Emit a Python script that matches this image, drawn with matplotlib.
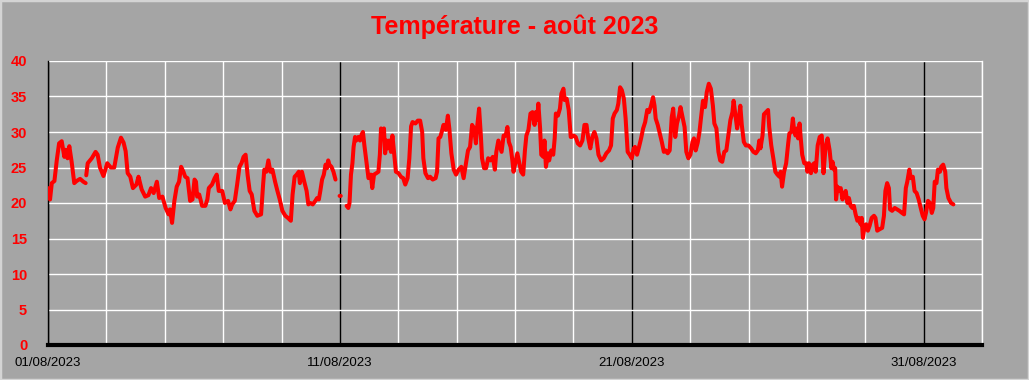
import numpy as np
import matplotlib
matplotlib.use("Agg")
import matplotlib.pyplot as plt
from matplotlib.patches import Rectangle

nan = float("nan")

# time in days since 01/08/2023 00:00
days = [
    0.00, 0.07, 0.13, 0.22, 0.30, 0.38, 0.47, 0.56, 0.61, 0.67, 0.73, 0.81, 0.90, 0.98, 1.10, 1.21, 1.29,
    1.30,
    1.31, 1.36, 1.50, 1.63, 1.70, 1.78, 1.90, 2.03, 2.15, 2.27, 2.39, 2.50, 2.59, 2.66, 2.73, 2.82, 2.91,
    3.03, 3.10, 3.21, 3.33, 3.44, 3.53, 3.62, 3.73, 3.81, 3.92, 4.03, 4.13, 4.18, 4.25, 4.33, 4.41, 4.49,
    4.56, 4.64, 4.70, 4.78, 4.87, 4.95, 5.02, 5.07, 5.11, 5.18, 5.28, 5.39, 5.46, 5.51, 5.62, 5.71, 5.78,
    5.85, 5.97, 6.06, 6.17, 6.25, 6.31, 6.40, 6.48, 6.56, 6.63, 6.70, 6.77, 6.84, 6.91, 6.98, 7.07, 7.17,
    7.30, 7.37, 7.41, 7.48, 7.55, 7.62, 7.69, 7.78, 7.86, 7.94, 8.03, 8.13, 8.22, 8.32, 8.38, 8.45, 8.52,
    8.59, 8.63, 8.70, 8.78, 8.86, 8.92, 8.99, 9.07, 9.16, 9.22, 9.28, 9.33, 9.39, 9.45, 9.51, 9.56, 9.60,
    9.64, 9.71, 9.78, 9.85,
    9.90,
    9.99, 10.03,
    10.10,
    10.23, 10.29, 10.33, 10.38, 10.43, 10.47, 10.52, 10.56, 10.63, 10.69, 10.75, 10.79, 10.84, 10.91,
    10.98, 11.06, 11.11, 11.17, 11.25, 11.32, 11.37, 11.41, 11.46, 11.51, 11.55, 11.60, 11.64, 11.69,
    11.75, 11.80, 11.86, 11.92, 12.01, 12.09, 12.17, 12.24, 12.32, 12.38, 12.44, 12.49, 12.59, 12.67,
    12.75, 12.82, 12.86, 12.93, 13.02, 13.09, 13.18, 13.28, 13.33, 13.38, 13.44, 13.49, 13.55, 13.63,
    13.70, 13.75, 13.82, 13.90, 13.98, 14.07, 14.16, 14.24, 14.32, 14.39, 14.46, 14.53, 14.60, 14.66,
    14.71, 14.77, 14.83, 14.87, 14.94, 15.01, 15.08, 15.16, 15.24, 15.31, 15.36, 15.43, 15.49, 15.54,
    15.61, 15.68, 15.74, 15.79, 15.85, 15.91, 15.95, 16.02, 16.08, 16.14, 16.21, 16.28, 16.34, 16.39,
    16.46, 16.53, 16.60, 16.67, 16.71, 16.76, 16.80, 16.86, 16.90, 16.97, 17.01, 17.06, 17.13, 17.17,
    17.24, 17.31, 17.36, 17.40, 17.47, 17.54, 17.59, 17.66, 17.70, 17.77, 17.84, 17.91, 17.94, 18.01,
    18.08, 18.15, 18.23, 18.31, 18.38, 18.45, 18.51, 18.58, 18.65, 18.72, 18.79, 18.86, 18.95, 19.04,
    19.13, 19.22, 19.29, 19.35, 19.41, 19.49, 19.54, 19.60, 19.66, 19.73, 19.79, 19.86, 19.93, 20.00,
    20.07, 20.11, 20.18, 20.25, 20.32, 20.39, 20.46, 20.53, 20.59, 20.66, 20.73, 20.78, 20.82, 20.89,
    20.96, 21.03, 21.10, 21.17, 21.23, 21.30, 21.37, 21.42, 21.49, 21.55, 21.62, 21.67, 21.74, 21.81,
    21.87, 21.94, 22.01, 22.08, 22.13, 22.19, 22.26, 22.32, 22.37, 22.44, 22.51, 22.57, 22.64, 22.71,
    22.78, 22.83, 22.90, 22.97, 23.03, 23.10, 23.17, 23.24, 23.31, 23.38, 23.45, 23.49, 23.54, 23.61,
    23.68, 23.72, 23.77, 23.84, 23.91, 24.00, 24.09, 24.17, 24.25, 24.32, 24.37, 24.41, 24.48, 24.53,
    24.60, 24.67, 24.71, 24.78, 24.85, 24.92, 24.99, 25.06, 25.10, 25.15, 25.22, 25.29, 25.36, 25.40,
    25.47, 25.52, 25.56, 25.61, 25.66, 25.70, 25.75, 25.79, 25.84, 25.91, 25.98, 26.02, 26.07, 26.14,
    26.18, 26.25, 26.30, 26.37, 26.44, 26.51, 26.57, 26.64, 26.71, 26.78, 26.84, 26.88, 26.93, 26.97,
    27.00, 27.05, 27.10, 27.16, 27.22, 27.27, 27.33, 27.39, 27.44, 27.50, 27.56, 27.61, 27.67, 27.73,
    27.78, 27.84, 27.88, 27.92, 27.98, 28.03, 28.09, 28.15, 28.22, 28.30, 28.35, 28.41, 28.49, 28.58,
    28.64, 28.69, 28.75, 28.81, 28.85, 28.92, 29.01, 29.09, 29.17, 29.26, 29.33, 29.39, 29.44, 29.51,
    29.56, 29.63, 29.69, 29.76, 29.83, 29.90, 29.97, 30.03, 30.08, 30.15, 30.22, 30.28, 30.33, 30.38,
    30.44, 30.49, 30.56, 30.60, 30.67, 30.74, 30.78, 30.85, 30.94, 31.02,
]

temperature = [
    22.1, 20.5, 22.8, 23.1, 26.0, 28.4, 28.7, 26.5, 27.5, 26.3, 28.0, 25.8, 22.8, 23.1, 23.4, 23.0, 22.8,
    nan,
    23.9, 25.6, 26.3, 27.2, 26.8, 25.0, 23.8, 25.6, 25.0, 25.0, 27.8, 29.2, 28.5, 27.3, 24.2, 23.7, 22.1,
    22.6, 23.7, 21.9, 20.9, 21.1, 22.1, 21.4, 23.0, 20.7, 20.9, 19.3, 18.4, 19.1, 17.2, 20.3, 22.3, 23.0,
    25.1, 24.4, 23.7, 23.5, 20.3, 20.5, 23.3, 23.0, 20.9, 21.2, 19.6, 19.6, 20.5, 22.1, 22.6, 23.5, 24.0,
    21.7, 21.7, 20.0, 20.3, 19.1, 19.8, 20.3, 22.6, 25.1, 25.6, 26.5, 26.8, 23.9, 21.7, 21.2, 18.9, 18.2,
    18.4, 22.6, 24.7, 24.4, 26.0, 24.4, 24.7, 23.0, 21.7, 20.5, 18.9, 18.2, 17.9, 17.5, 21.2, 23.7, 24.0,
    24.4, 22.8, 24.4, 23.0, 21.7, 19.8, 20.0, 19.8, 20.3, 20.7, 20.5, 21.7, 23.3, 24.0, 25.4, 24.9, 26.0,
    25.4, 25.1, 24.4, 23.3,
    nan,
    21.0, 21.0,
    nan,
    19.6, 19.3, 20.0, 24.0, 25.6, 27.9, 29.3, 28.8, 29.3, 28.8, 29.7, 30.0, 28.1, 25.8,
    23.5, 24.0, 22.1, 24.0, 24.2, 24.4, 26.8, 30.5, 29.7, 30.5, 27.0, 28.8, 27.7, 28.8,
    27.2, 29.5, 27.0, 24.4, 24.2, 23.7, 23.5, 22.6, 23.5, 26.3, 30.8, 31.4, 31.2, 31.6,
    31.6, 30.0, 26.3, 24.2, 23.5, 23.7, 23.3, 23.5, 24.4, 29.1, 29.3, 30.0, 31.0, 30.3,
    32.3, 30.5, 27.0, 24.7, 24.0, 24.7, 25.1, 23.5, 25.6, 27.4, 27.9, 31.0, 30.5, 28.4,
    31.0, 33.3, 29.5, 26.3, 24.9, 24.9, 26.3, 26.0, 26.5, 24.7, 27.2, 28.8, 27.9, 27.2,
    29.5, 29.5, 30.7, 28.6, 27.9, 26.0, 24.4, 25.8, 27.0, 25.8, 24.4, 24.0, 27.4, 29.5,
    30.3, 32.6, 32.8, 31.0, 32.8, 31.7, 34.0, 30.5, 26.8, 26.5, 28.8, 25.1, 27.0, 26.0,
    27.4, 26.8, 29.1, 32.6, 32.3, 33.3, 35.4, 36.1, 34.5, 34.7, 33.1, 29.3, 29.3, 29.5,
    29.3, 28.4, 28.1, 28.8, 31.0, 31.0, 29.1, 27.7, 29.3, 30.0, 29.1, 26.8, 26.0, 26.3,
    27.0, 27.4, 28.1, 31.9, 32.6, 33.1, 34.0, 36.3, 35.9, 34.7, 31.9, 27.2, 26.8, 26.3,
    27.7, 27.9, 26.8, 27.9, 29.1, 30.5, 31.4, 33.1, 32.8, 33.7, 34.9, 33.7, 31.9, 31.0,
    29.8, 28.6, 27.2, 27.4, 27.0, 27.4, 32.1, 33.3, 29.3, 31.2, 32.3, 33.5, 32.1, 30.7,
    27.2, 26.3, 26.8, 28.6, 29.1, 27.4, 28.5, 30.0, 31.9, 34.4, 33.5, 35.6, 36.8, 36.1,
    33.7, 31.2, 30.5, 27.2, 26.0, 25.8, 27.2, 27.4, 29.5, 31.7, 32.8, 34.4, 32.8, 30.5,
    32.3, 33.7, 31.0, 28.6, 28.1, 28.1, 27.7, 27.2, 27.0, 27.4, 28.8, 27.7, 29.5, 32.5,
    32.8, 33.1, 30.7, 28.1, 26.3, 24.4, 24.0, 23.7, 24.4, 22.3, 24.4, 25.6, 28.4, 29.8,
    30.0, 31.9, 30.3, 29.5, 30.5, 29.1, 31.2, 29.1, 26.8, 25.6, 25.6, 24.4, 25.6, 24.2,
    25.3, 25.6, 24.4, 28.1, 29.3, 29.5, 24.2, 27.9, 29.1, 27.4, 24.9, 25.8, 24.7, 24.9,
    20.5, 22.3, 21.7, 22.1, 20.5, 21.2, 21.7, 20.0, 20.7, 19.6, 19.3, 19.6, 18.4, 17.5,
    17.9, 17.0, 17.9, 15.1, 16.8, 17.0, 16.1, 16.8, 17.9, 18.2, 17.9, 16.1, 16.3, 16.5,
    18.2, 21.7, 22.8, 22.1, 19.1, 18.9, 19.3, 19.1, 18.9, 18.6, 18.4, 22.1, 23.0, 24.7,
    23.5, 23.7, 21.7, 21.4, 20.5, 19.3, 18.2, 17.7, 18.6, 20.3, 20.0, 18.6, 19.3, 23.0,
    22.8, 24.7, 24.4, 25.1, 25.4, 24.4, 22.1, 20.7, 20.0, 19.8,
]

tick_days = [0, 10, 20, 30]
tick_labels = ["01/08/2023", "11/08/2023", "21/08/2023", "31/08/2023"]
y_ticks = [0, 5, 10, 15, 20, 25, 30, 35, 40]
title = "Température - août 2023"

BG = "#A5A5A5"
RED = "#FF0000"

fig = plt.figure(figsize=(10.29, 3.80), dpi=100, facecolor=BG)
ax = fig.add_axes([48 / 1029, 1 - 345 / 380, (982 - 48) / 1029, (345 - 61) / 380])
ax.set_facecolor(BG)

fig.patches.append(Rectangle((0, 0), 1, 1, transform=fig.transFigure, fill=False,
                             edgecolor="#D4D4D4", linewidth=2.5))

ax.plot(days, temperature, color=RED, linewidth=2.9, solid_joinstyle="round",
        solid_capstyle="round", zorder=5)

ax.set_xlim(0, 32)
ax.set_ylim(0, 40)
ax.set_xticks(tick_days)
ax.set_xticklabels(tick_labels)
ax.set_xticks(np.arange(0, 33, 2), minor=True)
ax.set_yticks(y_ticks)
ax.set_yticklabels([str(v) for v in y_ticks])

ax.set_axisbelow(True)
ax.grid(which="minor", axis="x", color="white", linewidth=1.0)
ax.grid(which="major", axis="x", color="black", linewidth=1.0)
ax.grid(which="major", axis="y", color="white", linewidth=1.0)
ax.axvline(32, color="white", linewidth=1.0, clip_on=False, zorder=1)

for s in ["top", "right"]:
    ax.spines[s].set_visible(False)
ax.spines["left"].set_color("black")
ax.spines["left"].set_linewidth(1.0)
ax.spines["bottom"].set_color("black")
ax.spines["bottom"].set_linewidth(3.0)

ax.tick_params(axis="both", which="both", length=0)
ax.tick_params(axis="y", pad=15)
ax.tick_params(axis="x", pad=9)
for lab in ax.get_yticklabels():
    lab.set_color(RED)
    lab.set_fontweight("bold")
    lab.set_fontsize(10.5)
    lab.set_family(["Liberation Sans", "DejaVu Sans"])
for lab in ax.get_xticklabels():
    lab.set_color("black")
    lab.set_fontsize(9.5)
    lab.set_family(["Liberation Sans", "DejaVu Sans"])

fig.text(0.5, 1 - 27 / 380, title, ha="center", va="center", color=RED,
         fontsize=18, fontweight="bold",
         family=["Liberation Sans", "DejaVu Sans"])

fig.savefig("out.png", dpi=100, facecolor=BG)
